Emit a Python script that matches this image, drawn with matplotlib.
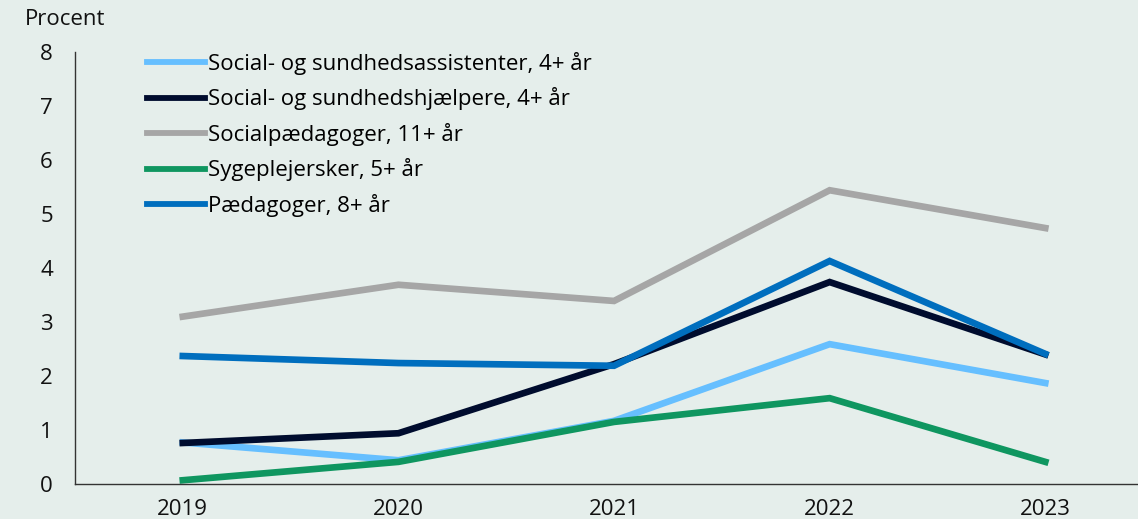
import numpy as np
import matplotlib.pyplot as plt

plt.rcParams['font.family'] = ['Open Sans', 'DejaVu Sans']

years = ['2019', '2020', '2021', '2022', '2023']
sosu_assistenter = [0.77, 0.44, 1.17, 2.59, 1.87]
sosu_hjaelpere = [0.76, 0.94, 2.22, 3.74, 2.40]
socialpaedagoger = [3.10, 3.69, 3.39, 5.44, 4.74]
sygeplejersker = [0.07, 0.41, 1.15, 1.59, 0.41]
paedagoger = [2.37, 2.24, 2.19, 4.13, 2.41]

labels = ['Social- og sundhedsassistenter, 4+ år',
          'Social- og sundhedshjælpere, 4+ år',
          'Socialpædagoger, 11+ år',
          'Sygeplejersker, 5+ år',
          'Pædagoger, 8+ år']
colors = ['#66bfff', '#000c2e', '#a6a6a6', '#0f9660', '#006ebe']

bg = '#e5eeeb'
fs = 16
fig = plt.figure(figsize=(11.38, 5.19), dpi=100, facecolor=bg)
ax = fig.add_axes([0.0659, 0.0674, 0.9341, 0.8324], facecolor=bg)

x = np.arange(len(years))
series = [sosu_assistenter, sosu_hjaelpere, socialpaedagoger, sygeplejersker, paedagoger]
for vals, lab, col in zip(series, labels, colors):
    ax.plot(x, vals, color=col, lw=4.8, label=lab, solid_joinstyle='miter')

ax.set_xlim(-0.5, 4.43)
ax.set_ylim(0, 8)
ax.set_xticks(x)
ax.set_xticklabels(years)
ax.set_yticks(range(0, 9))
ax.tick_params(axis='y', length=0, pad=16, labelsize=fs, colors='#111111')
ax.tick_params(axis='x', length=0, pad=11, labelsize=fs, colors='#111111')

for s in ['top', 'right']:
    ax.spines[s].set_visible(False)
for s in ['left', 'bottom']:
    ax.spines[s].set_color('#333333')
    ax.spines[s].set_linewidth(1.0)

fig.text(0.022, 0.963, 'Procent', fontsize=fs, color='#111111', va='center', ha='left')

leg = ax.legend(loc='upper left', bbox_to_anchor=(0.068, 1.0), frameon=False,
                fontsize=fs, handlelength=2.6, handletextpad=0.13,
                labelspacing=0.56, borderaxespad=0, borderpad=0)
for h in leg.get_lines():
    h.set_linewidth(4.2)

fig.savefig('out.png', dpi=100, facecolor=bg)
